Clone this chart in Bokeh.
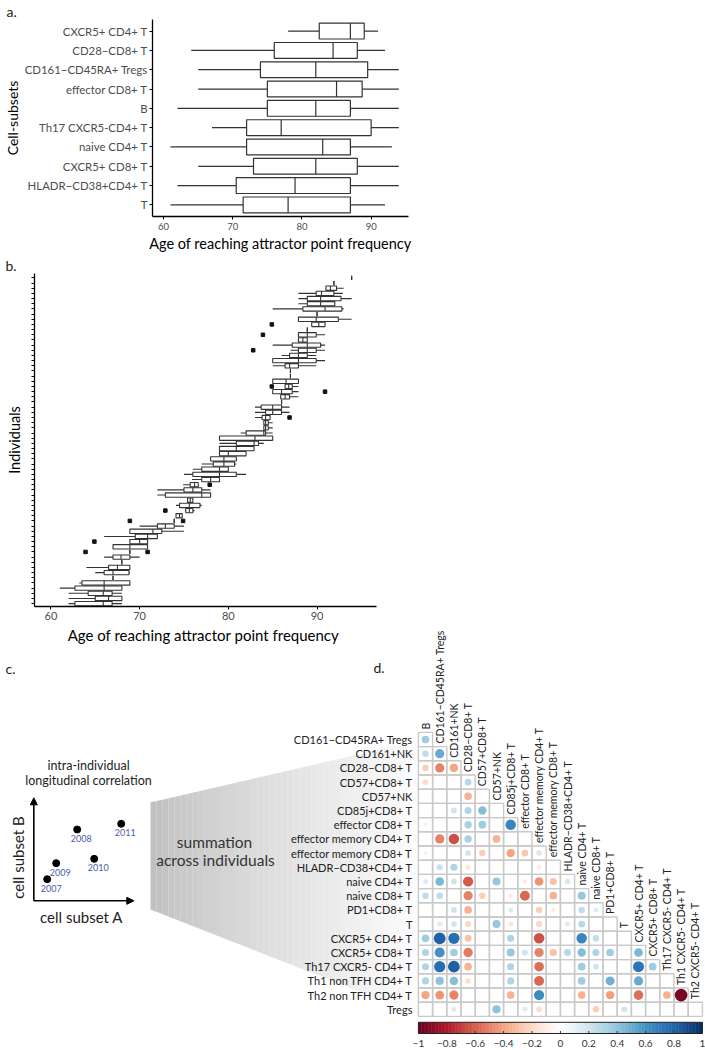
import numpy as np
from bokeh.plotting import figure
from bokeh.models import Range1d, FixedTicker, Arrow, NormalHead, LinearColorMapper, ColumnDataSource, Title
from bokeh.layouts import column
from bokeh.embed import file_html
from bokeh.resources import INLINE
from bokeh.core.properties import value

FONT = "Lato"
INK = "#333333"
GREY_TXT = "#4d4d4d"

# ---------------- Panel a data ----------------
subsets = ["CXCR5+ CD4+ T", "CD28−CD8+ T", "CD161−CD45RA+ Tregs", "effector CD8+ T", "B",
           "Th17 CXCR5-CD4+ T", "naive CD4+ T", "CXCR5+ CD8+ T", "HLADR−CD38+CD4+ T", "T"]
a_low = [78, 64, 65, 65, 62, 67, 61, 65, 62, 61]
a_q1 = [82.5, 76, 74, 75, 75, 72, 72, 73, 70.5, 71.5]
a_med = [87, 84.5, 82, 85, 82, 77, 83, 82, 79, 78]
a_q3 = [89, 88, 89.5, 88.7, 87, 90, 87, 88, 87, 87]
a_high = [91, 92, 94, 94, 94, 94, 93, 94, 94, 92]
a_ticks = [60, 70, 80, 90]

# ---------------- Panel b data (individuals, bottom to top) ----------------
b_low = [62, 62, 62, 61, 63.2, 67, 65, 64, 68, 66, 68.9, 67, 68.9, 66, 68.9, 70, 73.9, 74.1, 75.1, 74.1,
         75.4, 72, 72, 74.9, 75.9, 75, 76, 77, 78, 79, 79, 79, 79, 81.4, 84, 84, 83, 83, 83, 86,
         85.9, 85, 86.4, 85, 87, 87, 85, 85, 86, 87, 85, 87.9, 87.9, 88.9, 89.4, 87.9, 90, 85, 87.9, 87.9,
         87.9, 91, 91.9, 93.9]
b_q1 = [62.7, 65, 64.2, 62.7, 63.5, 67, 66, 66.5, 68, 67, 68.9, 67, 68.9, 69.5, 68.9, 72, 73.9, 74.1, 75.2, 74.5,
        75.4, 72.9, 75, 75.7, 77, 76, 77, 78.3, 78, 79, 79, 80.9, 79, 82, 84, 84, 83.8, 84.2, 83.7, 86,
        85.9, 85, 86.4, 85, 87, 87, 86.4, 85, 86.9, 87.9, 87.2, 87.9, 87.9, 88.9, 89.4, 87.9, 90, 88.4, 88.9, 88.9,
        89.9, 91, 91.9, 93.9]
b_med = [65.9, 66.5, 65.9, 66, 66, 67, 67, 67.5, 68, 67.9, 68.9, 68.9, 70, 70.9, 71.5, 72.9, 73.9, 74.5, 75.6, 75.6,
         75.7, 77, 76, 76.2, 78, 79, 79, 79.5, 79.5, 80, 80.9, 82.9, 83, 84, 84.2, 84.2, 84.2, 85, 85, 86,
         86.4, 86, 86.8, 86.5, 87, 87, 86.9, 87.9, 87.9, 88.9, 88.9, 88.4, 88.9, 88.9, 90.2, 89.9, 90, 90.9, 90.4, 90.4,
         90.5, 91.5, 91.9, 93.9]
b_q3 = [66.9, 68, 66.9, 68, 68.9, 67, 68.8, 68.9, 68, 68.9, 68.9, 70.9, 70.9, 72, 72.5, 73.9, 73.9, 74.8, 76, 76.8,
        76, 78, 77, 76.6, 79, 80.9, 80, 80.7, 80.9, 82, 82.9, 83.4, 85, 84.2, 84.5, 84.5, 84.7, 86, 86, 86,
        86.9, 87.2, 87.2, 87.9, 87, 87, 87.9, 89.9, 88.9, 89.9, 90.4, 88.9, 89.9, 88.9, 90.9, 92.4, 90, 92.8, 92, 92.7,
        91.9, 92.2, 91.9, 93.9]
b_high = [68, 68, 68, 68, 68.9, 67, 68.9, 68.9, 68, 70, 68.9, 70.9, 70.9, 72, 75, 75, 73.9, 74.8, 76.2, 77,
          76, 78, 78, 76.6, 79, 82, 80, 80.9, 80.9, 82, 82.9, 84, 85, 85, 85, 85, 84.7, 86.9, 86.9, 86,
          87.9, 87.9, 87.9, 87.9, 87, 87, 89.9, 90.9, 89.9, 90.9, 90.9, 88.9, 90.9, 88.9, 90.9, 93.9, 90, 93, 92, 93.9,
          92.9, 93, 91.9, 93.9]
out_ind = [10, 10, 12, 16, 16, 18, 23, 36, 41, 42, 49, 52, 54]
out_val = [63.9, 70.9, 64.9, 68.9, 74.9, 72.9, 77.9, 86.9, 90.9, 84.9, 82.8, 83.9, 84.9]
b_ticks = [60, 70, 80, 90]

# ---------------- Panel c data (schematic) ----------------
years = ["2007", "2008", "2009", "2010", "2011"]
subset_a = [1.34, 4.34, 2.24, 6.04, 8.74]
subset_b = [2.06, 7.03, 3.66, 4.10, 7.60]

# ---------------- Panel d data ----------------
row_labels = ["CD161−CD45RA+ Tregs", "CD161+NK", "CD28−CD8+ T", "CD57+CD8+ T", "CD57+NK", "CD85j+CD8+ T",
              "effector CD8+ T", "effector memory CD4+ T", "effector memory CD8+ T", "HLADR−CD38+CD4+ T",
              "naive CD4+ T", "naive CD8+ T", "PD1+CD8+ T", "T", "CXCR5+ CD4+ T", "CXCR5+ CD8+ T",
              "Th17 CXCR5- CD4+ T", "Th1 non TFH CD4+ T", "Th2 non TFH CD4+ T", "Tregs"]
col_labels = ["B", "CD161−CD45RA+ Tregs", "CD161+NK", "CD28−CD8+ T", "CD57+CD8+ T", "CD57+NK", "CD85j+CD8+ T",
              "effector CD8+ T", "effector memory CD4+ T", "effector memory CD8+ T", "HLADR−CD38+CD4+ T",
              "naive CD4+ T", "naive CD8+ T", "PD1+CD8+ T", "T", "CXCR5+ CD4+ T", "CXCR5+ CD8+ T",
              "Th17 CXCR5- CD4+ T", "Th1 CXCR5- CD4+ T", "Th2 CXCR5- CD4+ T"]
corr = [
    [0.35],
    [0.25, 0.5],
    [-0.25, -0.5, -0.4],
    [-0.2, 0, 0, 0.28],
    [0, 0, 0, -0.35, 0],
    [0, 0, 0.2, 0.3, 0.42, 0],
    [-0.1, 0, 0, 0.32, 0.36, 0, 0.65],
    [0, -0.5, -0.65, 0.32, 0, -0.35, 0, 0],
    [-0.1, 0, 0, 0.2, -0.25, 0, -0.4, -0.28, 0.18],
    [0, 0.22, 0.3, -0.15, 0, 0, 0, 0, -0.12, 0],
    [0.14, 0.45, 0.2, -0.62, 0, 0.38, 0, -0.12, -0.45, -0.3, 0.18],
    [0.25, 0.25, 0, -0.5, -0.25, 0, -0.12, -0.58, 0, -0.35, 0, 0.38],
    [0, 0, 0.2, -0.35, 0, 0, 0.15, 0, -0.25, -0.12, 0, 0.25, 0.14],
    [0, 0.15, 0.2, -0.22, 0, 0.38, -0.15, 0, -0.22, 0, 0.15, 0.28, 0, 0],
    [0.35, 0.82, 0.75, -0.3, 0, 0, 0.3, 0, -0.65, 0, 0, 0.65, 0.25, 0, 0],
    [0.3, 0.6, 0.35, -0.52, 0, 0, 0.38, 0.2, -0.5, -0.3, 0.28, 0.42, 0.3, 0.35, 0, 0.45],
    [0.3, 0.75, 0.82, -0.35, 0, 0, 0.3, 0, -0.55, 0, 0, 0.35, 0.2, 0, 0, 0.72, 0.35],
    [0.3, 0.4, 0.42, -0.18, 0, 0, 0.3, 0, -0.58, 0, 0, 0.35, 0, 0.48, 0, 0.5, 0, 0],
    [-0.4, -0.45, -0.5, 0, 0, 0, -0.35, 0, 0.62, 0, 0, -0.35, 0, -0.42, 0, -0.55, 0, -0.35, -0.95],
    [0, 0, 0.15, 0, 0, 0.4, 0, 0.15, -0.2, 0, 0, 0, -0.25, 0, 0.2, 0, 0, 0, 0, 0],
]
cb_ticks = [-1, -0.8, -0.6, -0.4, -0.2, 0, 0.2, 0.4, 0.6, 0.8, 1]
anchors = ["#67001F", "#B2182B", "#D6604D", "#F4A582", "#FDDBC7", "#FFFFFF",
           "#D1E5F0", "#92C5DE", "#4393C3", "#2166AC", "#053061"]


def interp_palette(hexes, n):
    rgb = np.array([[int(h[i:i + 2], 16) for i in (1, 3, 5)] for h in hexes], float)
    pos = np.linspace(0, 1, len(hexes))
    out = []
    for t in np.linspace(0, 1, n):
        r, g, b = (np.interp(t, pos, rgb[:, k]) for k in range(3))
        out.append("#%02x%02x%02x" % (int(round(r)), int(round(g)), int(round(b))))
    return out


palette = interp_palette(anchors, 200)


def style_axes(p, tick_size, label_size):
    for ax in p.axis:
        ax.axis_line_color = "black"
        ax.axis_line_width = 1.3
        ax.major_tick_line_color = "black"
        ax.major_tick_line_width = 1
        ax.major_tick_in = 0
        ax.major_tick_out = 3
        ax.minor_tick_line_color = None
        ax.major_label_text_font = FONT
        ax.major_label_text_font_size = tick_size
        ax.major_label_text_color = GREY_TXT
        ax.axis_label_text_font = FONT
        ax.axis_label_text_font_size = label_size
        ax.axis_label_text_font_style = "normal"
        ax.axis_label_text_color = "black"
    p.grid.visible = False
    p.outline_line_color = None


def no_align(p):
    try:
        p.frame_align = False
    except Exception:
        pass


def panel_title(p, txt, offset):
    p.title.visible = False
    t = Title(text=txt, align="left", offset=offset, standoff=0, text_font=FONT,
              text_font_size="14px", text_font_style="normal", text_color="#222222")
    p.add_layout(t, "above")


# ================= Panel a =================
pa = figure(width=420, height=254, x_range=Range1d(58.4, 95.4), y_range=Range1d(0.4, 10.6),
            output_backend="svg", toolbar_location=None,
            min_border_left=151, min_border_right=12, min_border_top=0, min_border_bottom=38)
no_align(pa)
ya = [len(subsets) - i for i in range(len(subsets))]
HA = 0.41
pa.segment(x0=a_low, x1=a_q1, y0=ya, y1=ya, line_color=INK, line_width=1.2)
pa.segment(x0=a_q3, x1=a_high, y0=ya, y1=ya, line_color=INK, line_width=1.2)
pa.quad(left=a_q1, right=a_q3, bottom=[y - HA for y in ya], top=[y + HA for y in ya],
        fill_color="white", line_color=INK, line_width=1.2)
pa.segment(x0=a_med, x1=a_med, y0=[y - HA for y in ya], y1=[y + HA for y in ya], line_color=INK, line_width=1.2)
style_axes(pa, "9.5px", "14.5px")
pa.xaxis.ticker = FixedTicker(ticks=a_ticks)
pa.yaxis.ticker = FixedTicker(ticks=ya)
pa.yaxis.major_label_overrides = {y: s for y, s in zip(ya, subsets)}
pa.yaxis.major_label_text_font_size = "11.4px"
pa.yaxis.major_label_standoff = 2
pa.yaxis.axis_label = "Cell-subsets"
pa.yaxis.axis_label_standoff = 1
pa.yaxis.axis_label_text_font_size = "14px"
pa.xaxis.axis_label = "Age of reaching attractor point frequency"
pa.xaxis.major_label_standoff = 3
pa.xaxis.axis_label_standoff = 2
panel_title(pa, "a.", -146)

# ================= Panel b =================
pb = figure(width=388, height=370, x_range=Range1d(58.15, 96.7), y_range=Range1d(-0.55, 63.85),
            output_backend="svg", toolbar_location=None,
            min_border_left=34, min_border_right=12, min_border_top=0, min_border_bottom=18)
no_align(pb)
yb = list(range(len(b_med)))
HB = 0.42
pb.segment(x0=b_low, x1=b_q1, y0=yb, y1=yb, line_color=INK, line_width=1.1)
pb.segment(x0=b_q3, x1=b_high, y0=yb, y1=yb, line_color=INK, line_width=1.1)
pb.quad(left=b_q1, right=b_q3, bottom=[y - HB for y in yb], top=[y + HB for y in yb],
        fill_color="white", line_color=INK, line_width=1.1)
pb.segment(x0=b_med, x1=b_med, y0=[y - HB for y in yb], y1=[y + HB for y in yb], line_color=INK, line_width=1.1)
pb.scatter(x=out_val, y=out_ind, marker="square", size=3.5, color="#111111")
style_axes(pb, "11px", "14.5px")
pb.xaxis.ticker = FixedTicker(ticks=b_ticks)
pb.xaxis.major_label_standoff = 2
pb.yaxis.ticker = FixedTicker(ticks=[], minor_ticks=yb)
pb.yaxis.minor_tick_line_color = "black"
pb.yaxis.minor_tick_in = 0
pb.yaxis.minor_tick_out = 3
pb.yaxis.major_label_standoff = 0
pb.yaxis.axis_label = "Individuals"
pb.yaxis.axis_label_standoff = 9
panel_title(pb, "b.", -29)

# ================= Panels c + d =================
S = 14.2
CD_W, CD_H = 705, 426
FIG_LEFT, FIG_TOP = 0, 624
COL0_X, ROW0_Y = 425, 739  # page pixel of first cell centre


def cx(px):
    return (px - COL0_X) / S


def cy(py):
    return (py - ROW0_Y) / S


xs_ = cx(FIG_LEFT)
xe_ = xs_ + CD_W / S
yt_ = cy(FIG_TOP)
yb_ = yt_ + CD_H / S
pcd = figure(width=CD_W, height=CD_H, x_range=Range1d(xs_, xe_), y_range=Range1d(yb_, yt_),
             output_backend="svg", toolbar_location=None, min_border=0,
             x_axis_type=None, y_axis_type=None)
no_align(pcd)
pcd.grid.visible = False
pcd.outline_line_color = None

# schematic ranges: origin at page (33.3, 899.3), 10 px per unit
OX, OY, U = 33.3, 899.3, 10.0
pcd.extra_x_ranges = {
    "cx": Range1d((FIG_LEFT - OX) / U, (FIG_LEFT + CD_W - OX) / U),
    "cbar": Range1d((xs_ + 0.5) / 10 - 1, (xe_ + 0.5) / 10 - 1),
}
pcd.extra_y_ranges = {"cy": Range1d((OY - (FIG_TOP + CD_H)) / U, (OY - FIG_TOP) / U)}

# grey "summation" wedge (horizontal gradient strips)
n_strip = 45
x_l, x_r = cx(150), cx(418)
t_l, t_r = cy(802), cy(740)
b_l, b_r = cy(909), cy(1014)
wx, wy, wc = [], [], []
for i in range(n_strip):
    f0, f1 = i / n_strip, min((i + 1.02) / n_strip, 1.0)
    xa, xb = x_l + (x_r - x_l) * f0, x_l + (x_r - x_l) * f1
    ta, tb = t_l + (t_r - t_l) * f0, t_l + (t_r - t_l) * f1
    ba, bb = b_l + (b_r - b_l) * f0, b_l + (b_r - b_l) * f1
    wx.append([xa, xb, xb, xa])
    wy.append([ta, tb, bb, ba])
    g = int(round(192 + (253 - 192) * (f0 ** 0.85)))
    wc.append("#%02x%02x%02x" % (g, g, g))
pcd.patches(xs=wx, ys=wy, fill_color=wc, line_color=None)

txt = dict(text_font=value(FONT), text_baseline="middle")
pcd.text(x=[cx(214)], y=[cy(841)], text=["summation"], text_align="center",
         text_font_size=value("15.5px"), text_color="#333333", **txt)
pcd.text(x=[cx(215)], y=[cy(859)], text=["across individuals"], text_align="center",
         text_font_size=value("15.5px"), text_color="#333333", **txt)

# panel b x-axis title (placed here because panel d column labels reach up alongside it)
pcd.text(x=[cx(203)], y=[cy(634)], text=["Age of reaching attractor point frequency"], text_align="center",
         text_font_size=value("15px"), text_color="black", **txt)

# panel letters
pcd.text(x=[cx(5)], y=[cy(668)], text=["c."], text_align="left", text_font_size=value("14px"),
         text_color="#222222", **txt)
pcd.text(x=[cx(373)], y=[cy(667)], text=["d."], text_align="left", text_font_size=value("14px"),
         text_color="#222222", **txt)

# panel c titles
pcd.text(x=[cx(88)], y=[cy(765)], text=["intra-individual"], text_align="center",
         text_font_size=value("12.5px"), text_color="#222222", **txt)
pcd.text(x=[cx(88)], y=[cy(780)], text=["longitudinal correlation"], text_align="center",
         text_font_size=value("12.5px"), text_color="#222222", **txt)
pcd.text(x=[cx(81)], y=[cy(916)], text=["cell subset A"], text_align="center",
         text_font_size=value("15px"), text_color="#222222", **txt)
pcd.text(x=[cx(17.5)], y=[cy(857)], text=["cell subset B"], text_align="center", angle=np.pi / 2,
         text_font_size=value("15px"), text_color="#222222", **txt)

# schematic axes + points
head = dict(size=7, fill_color="black", line_color="black", line_width=1)
pcd.add_layout(Arrow(end=NormalHead(**head), x_start=0, y_start=-0.1, x_end=10, y_end=-0.1,
                     line_width=1.6, line_color="black", x_range_name="cx", y_range_name="cy"))
pcd.add_layout(Arrow(end=NormalHead(**head), x_start=0, y_start=-0.1, x_end=0, y_end=10.2,
                     line_width=1.6, line_color="black", x_range_name="cx", y_range_name="cy"))
pcd.scatter(x=subset_a, y=subset_b, size=7, color="black", x_range_name="cx", y_range_name="cy")
pcd.text(x=subset_a, y=subset_b, text=years, x_offset=4, y_offset=9, text_align="center",
         text_font_size=value("9px"), text_color="#4b5ea6", x_range_name="cx", y_range_name="cy", **txt)

# correlation grid
gx, gy, cxs, cys, cvs = [], [], [], [], []
for r, rowvals in enumerate(corr):
    for c, v in enumerate(rowvals):
        gx.append(c)
        gy.append(r)
        if v != 0:
            cxs.append(c)
            cys.append(r)
            cvs.append(v)
pcd.rect(x=gx, y=gy, width=1, height=1, fill_color=None, line_color="#c9c9c9", line_width=1.4)
mapper = LinearColorMapper(palette=palette, low=-1, high=1)
src = ColumnDataSource(dict(c=cxs, r=cys, v=cvs, s=[13 * np.sqrt(abs(v)) for v in cvs]))
pcd.scatter(x="c", y="r", size="s", source=src, fill_color={"field": "v", "transform": mapper},
            line_color=None)

# labels
pcd.text(x=[-0.5 - 6 / S] * len(row_labels), y=list(range(len(row_labels))), text=row_labels,
         text_align="right", text_font_size=value("11px"), text_color="#222222", **txt)
pcd.text(x=list(range(len(col_labels))), y=[c - 0.5 - 3 / S for c in range(len(col_labels))], text=col_labels,
         angle=np.pi / 2, text_align="left", text_font_size=value("10.5px"), text_color="#222222", **txt)

# colour bar
cb_top = len(row_labels) - 1 + 13 / S
cb_bot = len(row_labels) - 1 + 24.2 / S
nb = len(palette)
edges = np.linspace(cb_ticks[0], cb_ticks[-1], nb + 1)
pcd.quad(left=edges[:-1], right=edges[1:] + 0.003, top=[cb_top] * nb, bottom=[cb_bot] * nb,
         fill_color=palette, line_color=None, x_range_name="cbar")
pcd.quad(left=[cb_ticks[0]], right=[cb_ticks[-1]], top=[cb_top], bottom=[cb_bot], fill_color=None,
         line_color="#222222", line_width=1, x_range_name="cbar")
inner = cb_ticks[1:-1]
pcd.segment(x0=inner, x1=inner, y0=[cb_bot - 2.5 / S] * len(inner), y1=[cb_bot] * len(inner),
            line_color="#333333", line_width=1, x_range_name="cbar")
cb_labels = [("−" if t < 0 else "") + ("%g" % abs(t)) for t in cb_ticks]
pcd.text(x=cb_ticks, y=[cb_bot + 10 / S] * len(cb_ticks), text=cb_labels, text_align="center",
         text_font_size=value("10px"), text_color="#333333", x_range_name="cbar", **txt)

layout = column(pa, pb, pcd)
open("out.html", "w").write(file_html(layout, INLINE))
